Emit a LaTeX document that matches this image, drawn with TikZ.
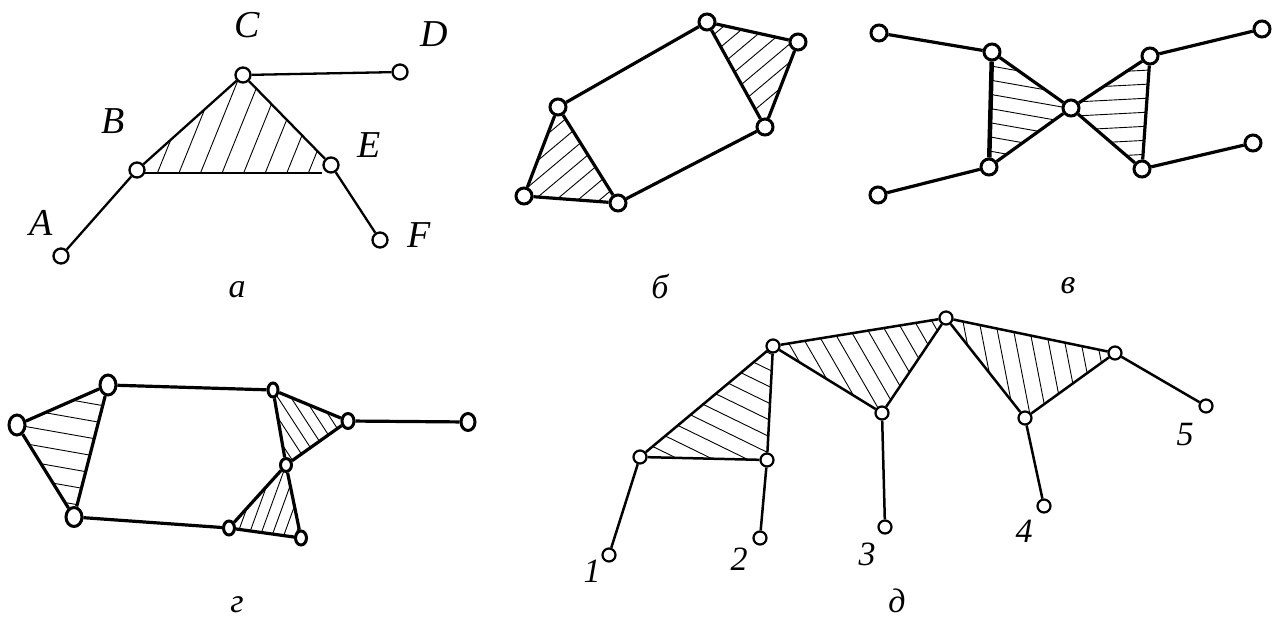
\documentclass[tikz,border=0pt]{standalone}
\usepackage{fontspec}
\setmainfont{Liberation Serif}
\usetikzlibrary{shapes.geometric}
\pgfdeclarelayer{bg}
\pgfsetlayers{bg,main}
\tikzset{
 vA/.style={circle,draw,fill=white,line width=2.3pt,inner sep=0pt,minimum size=15pt},
 vB/.style={circle,draw,fill=white,line width=3pt,inner sep=0pt,minimum size=16pt},
 vG/.style={ellipse,draw,fill=white,line width=3pt,inner sep=0pt},
 vD/.style={circle,draw,fill=white,line width=2.2pt,inner sep=0pt,minimum size=13pt},
 eA/.style={line width=2.3pt},
 eB/.style={line width=3.2pt},
 eBB/.style={line width=4.5pt},
 eD/.style={line width=2.5pt},
 hatchline/.style={line width=0.9pt},
 lbl/.style={font=\fontsize{38}{42}\selectfont\itshape, anchor=base, inner sep=0pt},
 capt/.style={font=\fontsize{34}{38}\selectfont\itshape, anchor=base, inner sep=0pt},
}
\newcommand\hatchtri[5]{%
 \begin{scope}
 \clip (#1.center)--(#2.center)--(#3.center)--cycle;
 \begin{scope}[shift={(#1.center)},rotate=#4]
 \foreach \k in {-22,...,22} \draw[hatchline] (-260,\k*#5) -- (260,\k*#5);
 \end{scope}
 \end{scope}}
\begin{document}
\begin{tikzpicture}[x=1pt,y=-1pt]
\useasboundingbox (0,0) rectangle (1275,618);
% ---------- panel a
\node[vA] (A) at (61,256) {};
\node[vA] (B) at (137,170) {};
\node[vA] (C) at (243,75) {};
\node[vA] (D) at (400,72) {};
\node[vA] (E) at (331,165) {};
\node[vA] (F) at (380,240) {};
\coordinate (Eb) at (322,173);
\node[lbl] (lA) at (41,235) {A};
\node[lbl] (lB) at (113,133) {B};
\node[lbl] (lC) at (247,38) {C};
\node[lbl] (lD) at (434,47) {D};
\node[lbl] (lE) at (369,157) {E};
\node[lbl] (lF) at (419,247) {F};
\node[capt] (ca) at (237,297) {а};
% ---------- panel b
\node[vB] (b1) at (707,22) {};
\node[vB] (b2) at (798,42) {};
\node[vB] (b3) at (765,127) {};
\node[vB] (b4) at (558,107) {};
\node[vB] (b5) at (524,196) {};
\node[vB] (b6) at (618,203) {};
\node[capt] (cb) at (660,298) {б};
% ---------- panel v
\node[vB] (v1) at (879,33) {};
\node[vB] (v2) at (992,52) {};
\node[vB] (v0) at (1071,108) {};
\node[vB] (v3) at (989,167) {};
\node[vB] (v4) at (878,195) {};
\node[vB] (v5) at (1150,56) {};
\node[vB] (v6) at (1262,29) {};
\node[vB] (v7) at (1142,169) {};
\node[vB] (v8) at (1253,143) {};
\node[capt] (cv) at (1068,293) {в};
% ---------- panel g
\node[vG,minimum width=16pt,minimum height=20pt] (g1) at (17,425) {};
\node[vG,minimum width=16pt,minimum height=20pt] (g2) at (108,385) {};
\node[vG,minimum width=16pt,minimum height=19pt] (g3) at (74,517) {};
\node[vG,minimum width=10pt,minimum height=14pt] (g4) at (273,390) {};
\node[vG,minimum width=12pt,minimum height=15pt] (g5) at (348,421) {};
\node[vG,minimum width=14pt,minimum height=17pt] (g6) at (468,422) {};
\node[vG,minimum width=11pt,minimum height=13pt] (g7) at (286,465) {};
\node[vG,minimum width=11pt,minimum height=14pt] (g8) at (229,528) {};
\node[vG,minimum width=11pt,minimum height=14pt] (g9) at (301,538) {};
\node[capt] (cg) at (237,612) {г};
% ---------- panel d
\node[vD] (t1) at (640,457) {};
\node[vD] (t2) at (767,460) {};
\node[vD] (t3) at (773,346) {};
\node[vD] (t4) at (882,413) {};
\node[vD] (t5) at (946,318) {};
\node[vD] (t6) at (1025,418) {};
\node[vD] (t7) at (1115,353) {};
\node[vD] (n1) at (609,555) {};
\node[vD] (n2) at (760,538) {};
\node[vD] (n3) at (885,527) {};
\node[vD] (n4) at (1044,506) {};
\node[vD] (n5) at (1206,406) {};
\node[capt] (l1) at (592,582) {1};
\node[capt] (l2) at (739,570) {2};
\node[capt] (l3) at (867,565) {3};
\node[capt] (l4) at (1024,542) {4};
\node[capt] (l5) at (1185,445) {5};
\node[capt] (cd) at (897,612) {д};
\begin{pgfonlayer}{bg}
% hatching
\begin{scope}
\clip (B.center) -- (C.center) -- (E.center) -- (Eb) -- (B.center |- Eb) -- cycle;
\begin{scope}[shift={(B.center)},rotate=68]
\foreach \k in {-22,...,22} \draw[hatchline] (-260,\k*20) -- (260,\k*20);
\end{scope}
\end{scope}
\hatchtri{b4}{b5}{b6}{40}{14}
\hatchtri{b1}{b2}{b3}{40}{14}
\hatchtri{v2}{v0}{v3}{-10}{14}
\hatchtri{v5}{v0}{v7}{3}{14}
\hatchtri{g1}{g2}{g3}{-10}{17}
\hatchtri{g4}{g5}{g7}{-57}{11}
\hatchtri{g7}{g8}{g9}{70}{11}
\hatchtri{t1}{t2}{t3}{-26}{15}
\hatchtri{t3}{t5}{t4}{-60}{15}
\hatchtri{t5}{t7}{t6}{-79}{16}
% edges a
\draw[eA] (A) -- (B);
\draw[eA] (B) -- (C);
\draw[eA] (C) -- (E);
\draw[eA] (B.center |- Eb) -- (Eb);
\draw[eA] (C) -- (D);
\draw[eA] (E) -- (F);
% edges b
\draw[eB] (b1) -- (b4);
\draw[eB] (b4) -- (b5);
\draw[eB] (b4) -- (b6);
\draw[eB] (b5) -- (b6);
\draw[eB] (b6) -- (b3);
\draw[eB] (b3) -- (b1);
\draw[eB] (b1) -- (b2);
\draw[eB] (b2) -- (b3);
% edges v
\draw[eB] (v1) -- (v2);
\draw[eB] (v2) -- (v0);
\draw[eBB] (v2) -- (v3);
\draw[eB] (v0) -- (v3);
\draw[eB] (v3) -- (v4);
\draw[eB] (v0) -- (v5);
\draw[eB] (v0) -- (v7);
\draw[eB] (v5) -- (v7);
\draw[eB] (v5) -- (v6);
\draw[eB] (v7) -- (v8);
% edges g
\draw[eB] (g1) -- (g2);
\draw[eB] (g1) -- (g3);
\draw[eB] (g2) -- (g3);
\draw[eB] (g2) -- (g4);
\draw[eB] (g3) -- (g8);
\draw[eB] (g4) -- (g5);
\draw[eB] (g4) -- (g7);
\draw[eB] (g5) -- (g7);
\draw[eB] (g5) -- (g6);
\draw[eB] (g7) -- (g8);
\draw[eB] (g7) -- (g9);
\draw[eB] (g8) -- (g9);
% edges d
\draw[eD] (t1) -- (t3);
\draw[eD] (t1) -- (t2);
\draw[eD] (t2) -- (t3);
\draw[eD] (t3) -- (t5);
\draw[eD] (t3) -- (t4);
\draw[eD] (t4) -- (t5);
\draw[eD] (t5) -- (t7);
\draw[eD] (t5) -- (t6);
\draw[eD] (t6) -- (t7);
\draw[eD] (t1) -- (n1);
\draw[eD] (t2) -- (n2);
\draw[eD] (t4) -- (n3);
\draw[eD] (t6) -- (n4);
\draw[eD] (t7) -- (n5);
\end{pgfonlayer}
\end{tikzpicture}
\end{document}
